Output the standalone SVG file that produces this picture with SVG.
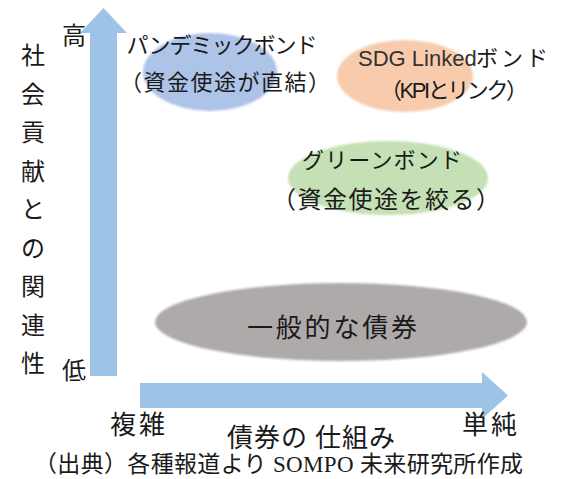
<svg xmlns="http://www.w3.org/2000/svg" width="564" height="479" viewBox="0 0 564 479">
<style>
text{font-family:"Noto Sans CJK JP","Noto Sans",sans-serif;fill:#1a1a1a}
.lbl{font-size:22px;text-anchor:middle}
.ax{font-size:24px}
.ax2{font-size:26px}
.lat{font-family:"Liberation Sans","Noto Sans",sans-serif}
.cap{font-family:"Liberation Serif","Noto Sans CJK JP",serif;font-size:23px}
.arrow{fill:#9dc3e6}
.soft{filter:url(#soft)}
</style>
<defs>
<filter id="soft" x="-5%" y="-10%" width="110%" height="120%"><feGaussianBlur stdDeviation="0.8"/></filter>
</defs>
<rect width="564" height="479" fill="#ffffff"/>
<g id="connectors">
<polygon class="arrow" points="90,376 90,33 80,33 103.5,8 127,33 117,33 117,376"/>
<polygon class="arrow" points="140,383 482,383 482,372 508,395.5 482,419 482,408 140,408"/>
</g>
<g id="axis-y-label">
<text class="ax" text-anchor="middle"><tspan x="33" y="64">社</tspan><tspan x="33" dy="38.5">会</tspan><tspan x="33" dy="38.5">貢</tspan><tspan x="33" dy="38.5">献</tspan><tspan x="33" dy="38.5">と</tspan><tspan x="33" dy="38.5">の</tspan><tspan x="33" dy="38.5">関</tspan><tspan x="33" dy="38.5">連</tspan><tspan x="33" dy="38.5">性</tspan></text>
<text class="ax" x="62" y="44">高</text>
<text class="ax" x="62" y="379">低</text>
</g>
<g id="node-pandemic">
<ellipse class="soft" cx="210" cy="72" rx="67" ry="39" fill="#aec3e8"/>
<text class="lbl" x="222" y="53" textLength="191">パンデミックボンド</text>
<text class="lbl" x="225" y="90" textLength="210">（資金使途が直結）</text>
</g>
<g id="node-sdg">
<ellipse class="soft" cx="405" cy="76" rx="68" ry="36" fill="#f8cbad"/>
<text x="358" y="66" style="font-size:22px"><tspan class="lat" style="fill:#333">SDG Linked</tspan><tspan x="476" textLength="72">ボンド</tspan></text>
<text class="lbl" x="454" y="98" textLength="148">（<tspan class="lat">KPI</tspan>とリンク）</text>
</g>
<g id="node-green">
<ellipse class="soft" cx="388" cy="178" rx="100" ry="37" fill="#c5e0b4"/>
<text class="lbl" x="382" y="168" textLength="160">グリーンボンド</text>
<text class="lbl" x="386" y="208" style="font-size:24px" textLength="228">（資金使途を絞る）</text>
</g>
<g id="node-general">
<ellipse class="soft" cx="341" cy="322" rx="186" ry="39" fill="#aeaaaa"/>
<text class="lbl" x="332" y="337" style="font-size:26px" textLength="170">一般的な債券</text>
</g>
<g id="axis-x-label">
<text class="ax2" x="110" y="434" textLength="55">複雑</text>
<text class="ax2" x="227" y="447" textLength="168">債券の 仕組み</text>
<text class="ax2" x="462" y="434" textLength="55">単純</text>
</g>
<text class="cap" x="34" y="472" textLength="489">（出典）各種報道より SOMPO 未来研究所作成</text>
</svg>
